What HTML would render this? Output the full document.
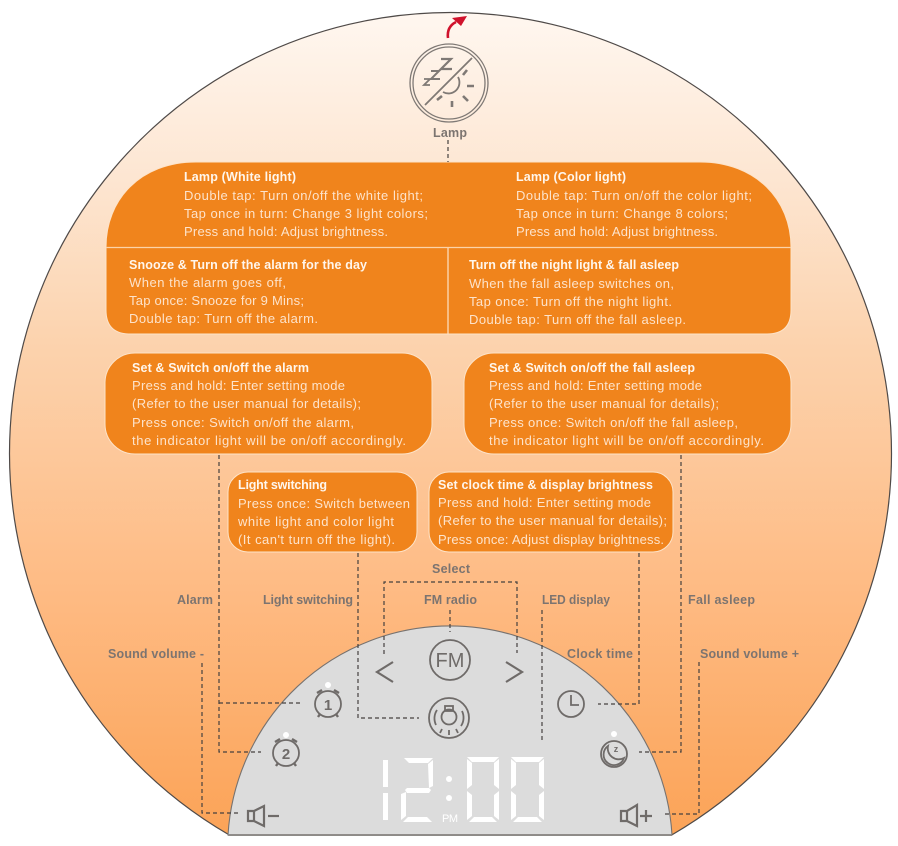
<!DOCTYPE html>
<html>
<head>
<meta charset="utf-8">
<style>
html,body{margin:0;padding:0;background:#fff;width:898px;height:846px;overflow:hidden}
svg{display:block;overflow:hidden}
text{font-family:"Liberation Sans",sans-serif}
.t{font-size:13px;fill:#fde3cb}
.b{font-size:12.5px;font-weight:bold;fill:#fff6ec}
.l{font-size:12.5px;font-weight:bold;fill:#7c7470}
.d{fill:none;stroke:#45413f;stroke-width:1.2;stroke-dasharray:4 3}
.i{fill:none;stroke:#6f6b69;stroke-width:1.8}
.m{fill:none;stroke:#7f7975}
</style>
</head>
<body>
<svg width="898" height="846" viewBox="0 0 898 846" xmlns="http://www.w3.org/2000/svg">
<defs>
<linearGradient id="g" x1="0" y1="12" x2="0" y2="835" gradientUnits="userSpaceOnUse">
<stop offset="0" stop-color="#fff7f0"/>
<stop offset="0.2" stop-color="#fde6d2"/>
<stop offset="0.4" stop-color="#fcd3ae"/>
<stop offset="0.7" stop-color="#febb84"/>
<stop offset="1" stop-color="#fba357"/>
</linearGradient>
</defs>

<path d="M229.3 835 A441 441 0 1 1 671.7 835 Z" fill="url(#g)" stroke="#4f4a48" stroke-width="1.2"/>

<!-- dome -->
<path d="M228 835 A222.4 222.4 0 0 1 672 835 Z" fill="#dcdcdc" stroke="#77726f" stroke-width="1.1"/>
<line x1="228" y1="835" x2="672" y2="835" stroke="#85817e" stroke-width="1.8"/>

<!-- red arrow -->
<path d="M448 38 C447 30 450 25 456 22" fill="none" stroke="#d0122c" stroke-width="2.6"/>
<path d="M467 16 L452 18 L461 26 Z" fill="#d0122c"/>

<!-- lamp icon -->
<circle cx="449" cy="83" r="39" class="m" stroke-width="1.3"/>
<circle cx="449" cy="83" r="36" class="m" stroke-width="1.3"/>
<line x1="425" y1="105" x2="472" y2="58" class="m" stroke-width="1.8"/>
<path d="M441 59 H451 L441 69 H452" class="m" stroke-width="2.2"/>
<path d="M431 71 H439 L431 79 H440" class="m" stroke-width="2"/>
<path d="M424 79 H430 L424 85 H430" class="m" stroke-width="1.8"/>
<path d="M458 77 A11 11 0 0 1 443 92" class="m" stroke-width="1.8"/>
<path d="M463 75 L467 70 M467 86 H474 M463 96 L468 101 M452 101 V107 M442 96 L437 100" class="m" stroke-width="2.6"/>

<!-- upper block -->
<path d="M106 247 C106 200 140 162 196 162 H700 C756 162 791 200 791 247 V310 Q791 334 767 334 H130 Q106 334 106 310 Z" fill="#f0841c" stroke="#fde3c8" stroke-width="1"/>
<line x1="106" y1="247.5" x2="791" y2="247.5" stroke="#fcd3a8" stroke-width="1.2"/>
<line x1="448" y1="248" x2="448" y2="334" stroke="#fde3c8" stroke-width="1.2"/>

<!-- other boxes -->
<rect x="105" y="353" width="327" height="101" rx="30" fill="#f0841c" stroke="#fde3c8" stroke-width="1"/>
<rect x="464" y="353" width="327" height="101" rx="30" fill="#f0841c" stroke="#fde3c8" stroke-width="1"/>
<rect x="228" y="472" width="189" height="80" rx="20" fill="#f0841c" stroke="#fde3c8" stroke-width="1"/>
<rect x="429" y="472" width="244" height="80" rx="20" fill="#f0841c" stroke="#fde3c8" stroke-width="1"/>

<!-- box text -->
<text class="b" x="184" y="181" textLength="112">Lamp (White light)</text>
<text class="t" x="184" y="200" textLength="239">Double tap: Turn on/off the white light;</text>
<text class="t" x="184" y="218" textLength="244">Tap once in turn: Change 3 light colors;</text>
<text class="t" x="184" y="236" textLength="204">Press and hold: Adjust brightness.</text>

<text class="b" x="516" y="181" textLength="110">Lamp (Color light)</text>
<text class="t" x="516" y="200" textLength="236">Double tap: Turn on/off the color light;</text>
<text class="t" x="516" y="218" textLength="212">Tap once in turn: Change 8 colors;</text>
<text class="t" x="516" y="236" textLength="202">Press and hold: Adjust brightness.</text>

<text class="b" x="129" y="269" textLength="238">Snooze &amp; Turn off the alarm for the day</text>
<text class="t" x="129" y="287" textLength="157">When the alarm goes off,</text>
<text class="t" x="129" y="305" textLength="175">Tap once: Snooze for 9 Mins;</text>
<text class="t" x="129" y="323" textLength="189">Double tap: Turn off the alarm.</text>

<text class="b" x="469" y="269" textLength="210">Turn off the night light &amp; fall asleep</text>
<text class="t" x="469" y="288" textLength="205">When the fall asleep switches on,</text>
<text class="t" x="469" y="306" textLength="203">Tap once: Turn off the night light.</text>
<text class="t" x="469" y="324" textLength="217">Double tap: Turn off the fall asleep.</text>

<text class="b" x="132" y="372" textLength="177">Set &amp; Switch on/off the alarm</text>
<text class="t" x="132" y="390" textLength="213">Press and hold: Enter setting mode</text>
<text class="t" x="132" y="408" textLength="229">(Refer to the user manual for details);</text>
<text class="t" x="132" y="427" textLength="222">Press once: Switch on/off the alarm,</text>
<text class="t" x="132" y="445" textLength="274">the indicator light will be on/off accordingly.</text>

<text class="b" x="489" y="372" textLength="206">Set &amp; Switch on/off the fall asleep</text>
<text class="t" x="489" y="390" textLength="213">Press and hold: Enter setting mode</text>
<text class="t" x="489" y="408" textLength="230">(Refer to the user manual for details);</text>
<text class="t" x="489" y="427" textLength="249">Press once: Switch on/off the fall asleep,</text>
<text class="t" x="489" y="445" textLength="275">the indicator light will be on/off accordingly.</text>

<text class="b" x="238" y="489" textLength="89">Light switching</text>
<text class="t" x="238" y="508" textLength="172">Press once: Switch between</text>
<text class="t" x="238" y="526" textLength="156">white light and color light</text>
<text class="t" x="238" y="544" textLength="157">(It can't turn off the light).</text>

<text class="b" x="438" y="489" textLength="215">Set clock time &amp; display brightness</text>
<text class="t" x="438" y="507" textLength="213">Press and hold: Enter setting mode</text>
<text class="t" x="438" y="525" textLength="229">(Refer to the user manual for details);</text>
<text class="t" x="438" y="544" textLength="226">Press once: Adjust display brightness.</text>

<!-- labels -->
<text class="l" x="433" y="137" textLength="34">Lamp</text>
<text class="l" x="432" y="573" textLength="38">Select</text>
<text class="l" x="424" y="604" textLength="53">FM radio</text>
<text class="l" x="542" y="604" textLength="68" lengthAdjust="spacingAndGlyphs">LED display</text>
<text class="l" x="177" y="604" textLength="36">Alarm</text>
<text class="l" x="263" y="604" textLength="90">Light switching</text>
<text class="l" x="688" y="604" textLength="67">Fall asleep</text>
<text class="l" x="108" y="658" textLength="96">Sound volume -</text>
<text class="l" x="567" y="658" textLength="66">Clock time</text>
<text class="l" x="700" y="658" textLength="99">Sound volume +</text>

<!-- dashed connectors -->
<path class="d" d="M448 140 V162"/>
<path class="d" d="M219 455 V752 H261"/>
<path class="d" d="M219 703 H303"/>
<path class="d" d="M358 553 V718 H419"/>
<path class="d" d="M384 654 V582 H517 V653"/>
<path class="d" d="M450 610 V632"/>
<path class="d" d="M542 610 V743"/>
<path class="d" d="M639 553 V704 H598"/>
<path class="d" d="M681 455 V752 H639"/>
<path class="d" d="M202 663 V813 H240"/>
<path class="d" d="M699 662 V814 H662"/>

<!-- FM & arrows -->
<circle cx="450" cy="660" r="20" class="i"/>
<text x="450" y="667" text-anchor="middle" font-size="20" fill="#6f6b69">FM</text>
<path d="M393 662 L377 672 L393 682" class="i" style="stroke-width:2.2"/>
<path d="M506 662 L522 672 L506 682" class="i" style="stroke-width:2.2"/>

<!-- bulb icon -->
<circle cx="449" cy="718" r="20" class="i"/>
<circle cx="449" cy="717" r="7.5" class="i"/>
<rect x="445" y="706" width="8" height="5" class="i" fill="#dcdcdc"/>
<path d="M436 725 A15 15 0 0 1 437 710 M462 711 A15 15 0 0 1 461 726 M440 733 L442 729 M449 735 V730 M458 733 L456 729" class="i"/>

<!-- alarm 1 -->
<circle cx="328" cy="685" r="3" fill="#fff"/>
<circle cx="328" cy="704" r="13" class="i"/>
<path d="M317 693 L322 690 M339 693 L334 690 M318 717 L320 714 M338 717 L336 714" class="i" style="stroke-width:2.4"/>
<text x="328" y="710" text-anchor="middle" font-size="15" font-weight="bold" fill="#6f6b69">1</text>
<!-- alarm 2 -->
<circle cx="286" cy="735" r="3" fill="#fff"/>
<circle cx="286" cy="753" r="13" class="i"/>
<path d="M275 742 L280 739 M297 742 L292 739 M276 766 L278 763 M296 766 L294 763" class="i" style="stroke-width:2.4"/>
<text x="286" y="759" text-anchor="middle" font-size="15" font-weight="bold" fill="#6f6b69">2</text>
<!-- clock -->
<circle cx="571" cy="704" r="13" class="i"/>
<path d="M571 695 V705 H579" class="i"/>
<!-- moon -->
<circle cx="614" cy="734" r="3" fill="#fff"/>
<circle cx="614" cy="754" r="13" class="i"/>
<path d="M608 746 A10.5 10.5 0 1 0 624 758 A11 11 0 0 1 608 746 Z" class="i"/>
<text x="616" y="752" text-anchor="middle" font-size="9" font-weight="bold" fill="#6f6b69">z</text>

<!-- speakers -->
<path d="M248 811 H254 L264 806 V826 L254 821 H248 Z M254 811 V821" class="i" style="stroke-width:2.2"/>
<line x1="268" y1="816" x2="279" y2="816" class="i" style="stroke-width:2.2"/>
<path d="M621 811 H627 L637 805 V826 L627 821 H621 Z M627 811 V821" class="i" style="stroke-width:2.2"/>
<path d="M640 816 H652 M646 810 V822" class="i" style="stroke-width:2.2"/>

<!-- LED digits -->
<g fill="#fff">
<rect x="383" y="760" width="5" height="27"/>
<rect x="383" y="793" width="5" height="27"/>
<path d="M404 758 H433 L428 763 H409 Z"/>
<path d="M433 760 V786 L429 788 L428 764 Z"/>
<path d="M407 788 H429 L431 790 L429 793 H407 L405 790 Z"/>
<path d="M401 794 L406 792 V816 L401 820 Z"/>
<path d="M403 822 L408 817 H427 L432 822 Z"/>
<circle cx="449" cy="779" r="3"/>
<circle cx="449" cy="798" r="3"/>
<path d="M467 757 H499 L494 762 H472 Z M467 759 L472 763 V785 L467 789 Z M499 759 V789 L494 785 V763 Z M467 791 L472 795 V816 L467 820 Z M499 791 V820 L494 816 V795 Z M469 822 L474 817 H492 L497 822 Z"/>
<path d="M511 757 H544 L539 762 H516 Z M511 759 L516 763 V785 L511 789 Z M544 759 V789 L539 785 V763 Z M511 791 L516 795 V816 L511 820 Z M544 791 V820 L539 816 V795 Z M513 822 L518 817 H537 L542 822 Z"/>
</g>
<text x="442" y="822" font-size="11" fill="#fff" textLength="16">PM</text>
</svg>
</body>
</html>
